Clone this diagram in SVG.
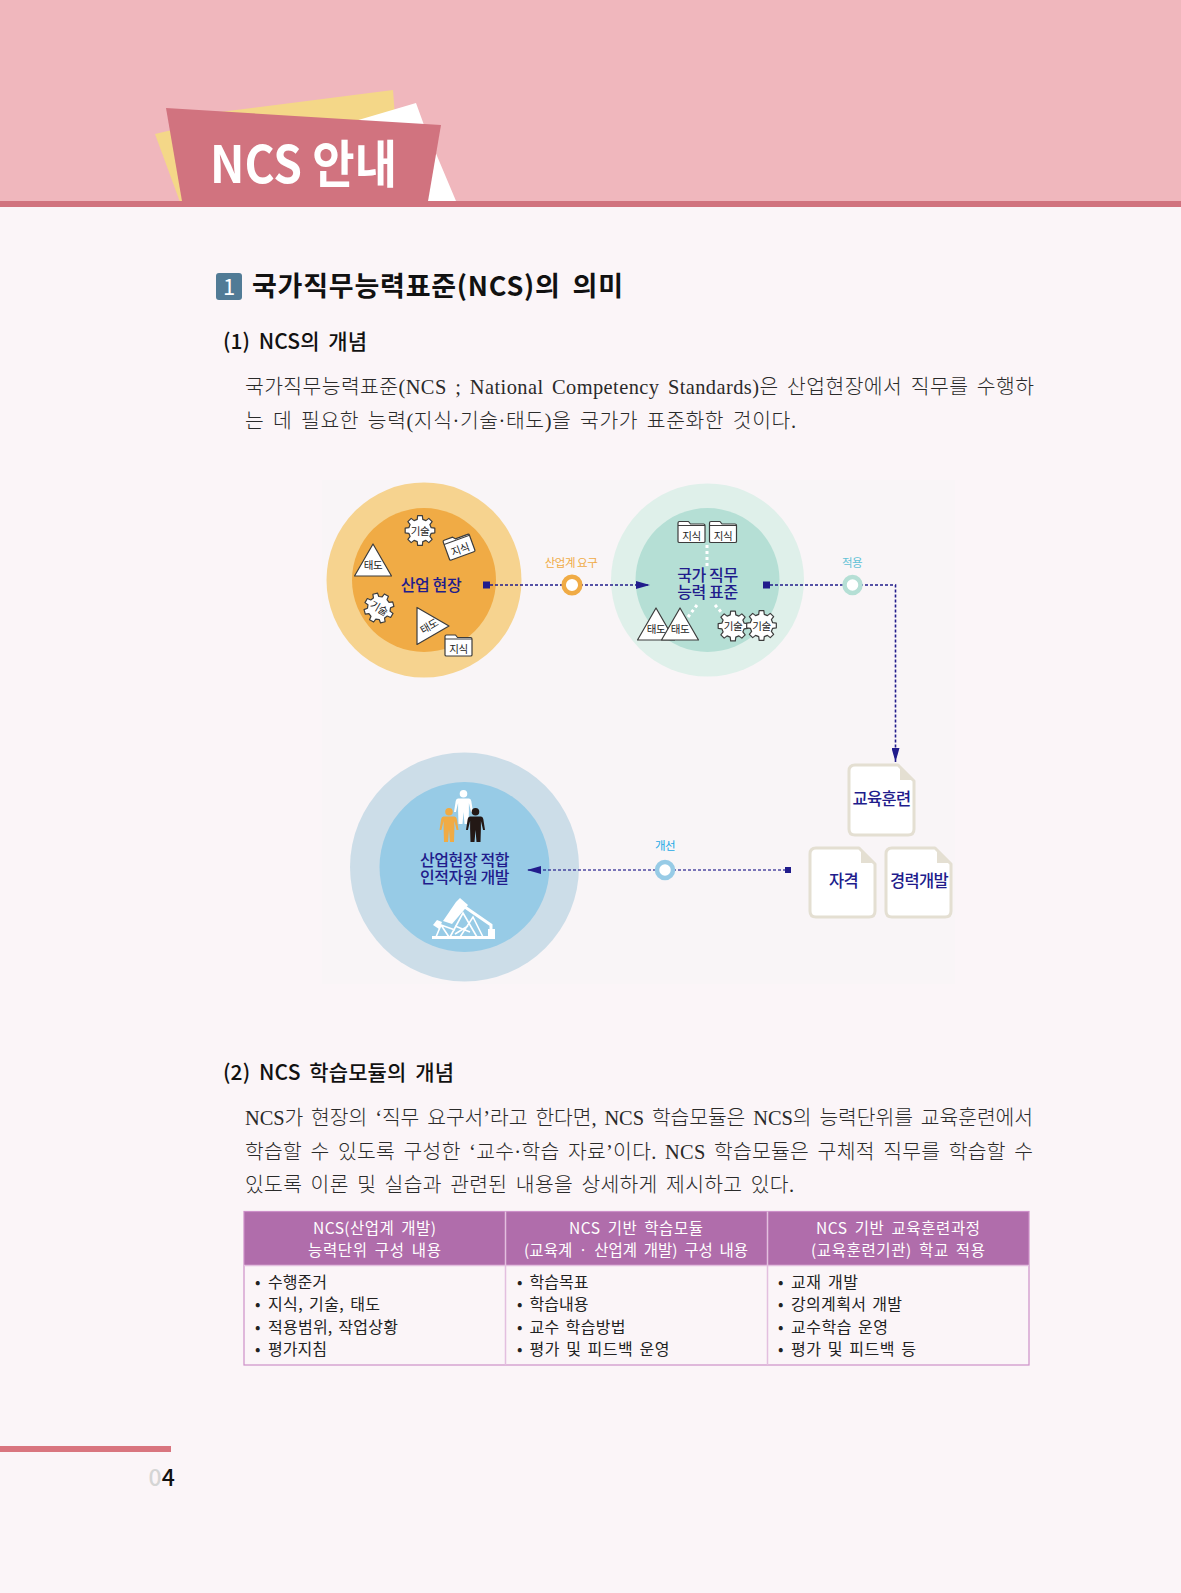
<svg xmlns="http://www.w3.org/2000/svg" width="1181" height="1593" viewBox="0 0 1181 1593">
<style>
text{font-family:"Noto Sans CJK KR","Noto Sans",sans-serif}
.body{font-family:"Liberation Serif","Noto Sans CJK KR",serif;font-size:20.4px;font-weight:300;fill:#2a2a2a;word-spacing:3px}
.h1{font-size:27px;font-weight:700;fill:#111;word-spacing:5px}
.h2{font-size:21px;font-weight:500;fill:#111;word-spacing:4px}
.th{font-size:15.5px;fill:#fff;word-spacing:3px}
.td{font-size:16px;fill:#222;word-spacing:2px}
.lab{font-size:16px;font-weight:500;fill:#211c8c;text-anchor:middle;letter-spacing:-.4px}
.doc{font-size:16.5px;font-weight:500;fill:#211c8c;text-anchor:middle;letter-spacing:-.7px}
.tag{font-size:11.5px;text-anchor:middle;letter-spacing:-.5px}
.ic{font-size:10.5px;fill:#222;text-anchor:middle;letter-spacing:-.3px}
.ln{fill:none;stroke:#211c8c;stroke-width:1.6;stroke-dasharray:3 2}
.sq{fill:#211c8c}
.ring{fill:#fff;stroke-width:4.5}
.dot{fill:none;stroke:#fff;stroke-width:3;stroke-dasharray:3 3}
.shape{fill:#fff;stroke:#3c3c3c;stroke-width:1.2;stroke-linejoin:round}
.sheet{fill:#fff;stroke:#e4dfd2;stroke-width:3;stroke-linejoin:round}
.fold{fill:#e4dfd2}
.pump{fill:none;stroke:#fff;stroke-width:1.6}
.cell{fill:none;stroke:#cd8fc9;stroke-width:1.2}
.div{stroke:#e3bfdf;stroke-width:1.5;fill:none}
</style>
<defs>
<polygon id="gear" class="shape" points="11.16,-2.78 14.82,-2.35 14.82,2.35 11.16,2.78 9.86,5.92 12.14,8.82 8.82,12.14 5.92,9.86 2.78,11.16 2.35,14.82 -2.35,14.82 -2.78,11.16 -5.92,9.86 -8.82,12.14 -12.14,8.82 -9.86,5.92 -11.16,2.78 -14.82,2.35 -14.82,-2.35 -11.16,-2.78 -9.86,-5.92 -12.14,-8.82 -8.82,-12.14 -5.92,-9.86 -2.78,-11.16 -2.35,-14.82 2.35,-14.82 2.78,-11.16 5.92,-9.86 8.82,-12.14 12.14,-8.82 9.86,-5.92"/>
<polygon id="tri" class="shape" points="0,-20 -18.5,12 18.5,12"/>
<g id="folder"><path class="shape" d="M-13.500,9.500V-9Q-13.500,-10.500 -12,-10.500H-3L-1,-8H12Q13.500,-8 13.500,-6.500V9.500Q13.500,10.500 12,10.500H-12Q-13.500,10.500 -13.500,9.500Z"/><path d="M-13.500,-6.500H13.500" stroke="#3c3c3c" stroke-width="1" fill="none"/></g>
<path id="person" d="M-5.500,7.500H5.500Q7.400,7.500 7.800,10L9.500,21H7.600L5.400,12V20L5,33H1L0,21L-1,33H-5L-5.400,20V12L-7.600,21H-9.500L-7.800,10Q-7.400,7.500 -5.500,7.500ZM0,-1A3.800,3.800 0 1 1 0,6.600A3.800,3.800 0 1 1 0,-1Z"/>
<marker id="ah" markerWidth="14" markerHeight="8" refX="14" refY="4" orient="auto" markerUnits="userSpaceOnUse"><polygon points="0,0 14,4 0,8" fill="#211c8c"/></marker>
</defs>

<rect width="1181" height="1593" fill="#fbf5f8"/>
<g id="header">
<rect width="1181" height="201" fill="#f0b7bd"/>
<polygon points="220,112 393,90 396,130 220,130" fill="#f4d788"/>
<polygon points="155,134 172,130 186,202 180,202" fill="#f4d788"/>
<polygon points="355,121 416,103 424,125 456,201 426,201" fill="#fff"/>
<rect y="201" width="1181" height="6" fill="#d1737f"/>
<polygon points="166,108 441,125 427,207 183,207" fill="#d1737f"/>
<text x="210" y="183" font-size="51" font-weight="700" fill="#fff" textLength="187" lengthAdjust="spacingAndGlyphs">NCS 안내</text>
</g>

<g id="section1">
<rect x="216" y="273" width="26" height="27" rx="3" fill="#517b96"/>
<text x="229" y="295" font-size="22" fill="#fff" text-anchor="middle">1</text>
<text class="h1" x="252" y="296" textLength="371">국가직무능력표준(NCS)의 의미</text>
<text class="h2" x="223" y="349" textLength="144">(1) NCS의 개념</text>
<text class="body" x="245" y="394" textLength="789">국가직무능력표준(NCS ; National Competency Standards)은 산업현장에서 직무를 수행하</text>
<text class="body" x="245" y="428" textLength="551">는 데 필요한 능력(지식·기술·태도)을 국가가 표준화한 것이다.</text>
</g>

<rect id="diagram-bg" x="322" y="480" width="633" height="504" fill="#f9f5f7"/>

<g id="node-industry">
<circle cx="424" cy="580" r="97.500" fill="#f6d38f"/>
<circle cx="424" cy="580" r="72" fill="#f0ab45"/>
<text class="lab" x="431" y="591">산업 현장</text>
<g transform="translate(420,530.500)"><use href="#gear"/><text class="ic" y="4">기술</text></g>
<g transform="translate(459,546) rotate(-20)"><use href="#folder"/><text class="ic" y="7.500">지식</text></g>
<g transform="translate(373,564)"><use href="#tri"/><text class="ic" y="5">태도</text></g>
<g transform="translate(379,608) rotate(30)"><use href="#gear"/><text class="ic" y="4">기술</text></g>
<g transform="translate(429,626) rotate(-30)"><g transform="rotate(120)"><use href="#tri"/></g><text class="ic" y="4">태도</text></g>
<g transform="translate(458.500,645.500)"><use href="#folder"/><text class="ic" y="7.500">지식</text></g>
</g>

<g id="node-standard">
<circle cx="707.500" cy="580" r="96.500" fill="#dff0ea"/>
<circle cx="707.500" cy="580" r="72" fill="#b5dfd5"/>
<path class="dot" d="M707,545V567M697,605L688,617M715,605L722,613"/>
<text class="lab" x="707.500" y="581">국가 직무</text>
<text class="lab" x="707.500" y="598.300">능력 표준</text>
<g transform="translate(691.500,532)"><use href="#folder"/><text class="ic" y="7.500">지식</text></g>
<g transform="translate(723,532)"><use href="#folder"/><text class="ic" y="7.500">지식</text></g>
<g transform="translate(656,628)"><use href="#tri"/><text class="ic" y="5">태도</text></g>
<g transform="translate(680,628)"><use href="#tri"/><text class="ic" y="5">태도</text></g>
<g transform="translate(733,626)"><use href="#gear"/><text class="ic" y="4">기술</text></g>
<g transform="translate(761.500,625.500)"><use href="#gear"/><text class="ic" y="4">기술</text></g>
</g>

<g id="node-hr">
<circle cx="464.500" cy="867" r="114.500" fill="#ccdde8"/>
<circle cx="464.500" cy="867" r="85" fill="#97cbe6"/>
<use href="#person" x="463.500" y="791" fill="#fff"/>
<use href="#person" x="449" y="809" fill="#f0ab45"/>
<use href="#person" x="475.500" y="809" fill="#231815"/>
<text class="lab" x="464.500" y="866">산업현장 적합</text>
<text class="lab" x="464.500" y="883.300">인적자원 개발</text>
<g id="pump">
<rect x="432" y="936" width="63" height="3" fill="#fff"/>
<rect x="488" y="929" width="7" height="8" fill="#fff"/>
<polygon points="443,921 456,902 460,898 468,905 464,910 452,924" fill="#fff"/>
<path d="M462,905L491,925V930" stroke="#fff" stroke-width="3" fill="none"/>
<path class="pump" d="M450,937L463,913L477,937M460,937L473,917L483,937M455,926L470,932M468,926L455,934"/>
<polygon points="433,925 437,920 442,922 439,929" fill="#fff"/>
<path class="pump" d="M436,937L441,925L449,937M441,925L455,930"/>
</g>
</g>

<g id="node-education"><path class="sheet" d="M855,765H898L914,781V829Q914,835 908,835H855Q849,835 849,829V771Q849,765 855,765Z"/><polygon class="fold" points="900,766 913,780 900,780"/><text class="doc" x="881.500" y="804.500">교육훈련</text></g>
<g id="node-qualification"><path class="sheet" d="M816,848H859L875,864V911Q875,917 869,917H816Q810,917 810,911V854Q810,848 816,848Z"/><polygon class="fold" points="861,849 874,863 861,863"/><text class="doc" x="843.500" y="887">자격</text></g>
<g id="node-career"><path class="sheet" d="M892,848H935L951,864V911Q951,917 945,917H892Q886,917 886,911V854Q886,848 892,848Z"/><polygon class="fold" points="937,849 950,863 937,863"/><text class="doc" x="919" y="887">경력개발</text></g>

<g id="connectors">
<path class="ln" d="M490,585H650" marker-end="url(#ah)"/>
<path class="ln" d="M770,585H895.500V762" marker-end="url(#ah)"/>
<path class="ln" d="M786,870H527" marker-end="url(#ah)" stroke-opacity=".78"/>
<rect class="sq" x="483" y="581.500" width="7" height="7"/>
<rect class="sq" x="763" y="581.500" width="7" height="7"/>
<rect class="sq" x="785" y="867" width="6" height="6"/>
</g>

<g id="node-demand"><circle class="ring" cx="572" cy="585" r="8.300" stroke="#f0ab45"/><text class="tag" x="571" y="567" fill="#f0ab45">산업계 요구</text></g>
<g id="node-apply"><circle class="ring" cx="852.500" cy="585" r="8" stroke="#b5dfd5"/><text class="tag" x="852" y="567" fill="#63c2d6">적용</text></g>
<g id="node-improve"><circle class="ring" cx="665" cy="870" r="8" stroke="#97cbe6"/><text class="tag" x="665" y="850" fill="#1ea9e6">개선</text></g>

<g id="section2">
<text class="h2" x="223" y="1080" textLength="231">(2) NCS 학습모듈의 개념</text>
<text class="body" x="245" y="1125" textLength="788">NCS가 현장의 ‘직무 요구서’라고 한다면, NCS 학습모듈은 NCS의 능력단위를 교육훈련에서</text>
<text class="body" x="245" y="1158.500" textLength="788">학습할 수 있도록 구성한 ‘교수·학습 자료’이다. NCS 학습모듈은 구체적 직무를 학습할 수</text>
<text class="body" x="245" y="1192" textLength="549">있도록 이론 및 실습과 관련된 내용을 상세하게 제시하고 있다.</text>
</g>

<g id="table">
<rect x="244" y="1211.500" width="785" height="54" fill="#b06dab"/>
<rect class="cell" x="244" y="1211.500" width="785" height="153.500"/>
<path class="div" d="M505.500,1211.500V1365M767.500,1211.500V1365M244,1265.500H1029"/>
<text class="th" x="313" y="1234" textLength="123">NCS(산업계 개발)</text>
<text class="th" x="308" y="1256" textLength="133">능력단위 구성 내용</text>
<text class="th" x="569" y="1234" textLength="134">NCS 기반 학습모듈</text>
<text class="th" x="524" y="1256" textLength="224">(교육계 · 산업계 개발) 구성 내용</text>
<text class="th" x="816" y="1234" textLength="164">NCS 기반 교육훈련과정</text>
<text class="th" x="811" y="1256" textLength="174">(교육훈련기관) 학교 적용</text>
<text class="td" x="255" y="1288">•</text><text class="td" x="268" y="1288">수행준거</text>
<text class="td" x="255" y="1310">•</text><text class="td" x="268" y="1310" textLength="112">지식, 기술, 태도</text>
<text class="td" x="255" y="1332.500">•</text><text class="td" x="268" y="1332.500" textLength="130">적용범위, 작업상황</text>
<text class="td" x="255" y="1355">•</text><text class="td" x="268" y="1355">평가지침</text>
<text class="td" x="517" y="1288">•</text><text class="td" x="529.500" y="1288">학습목표</text>
<text class="td" x="517" y="1310">•</text><text class="td" x="529.500" y="1310">학습내용</text>
<text class="td" x="517" y="1332.500">•</text><text class="td" x="529.500" y="1332.500" textLength="96">교수 학습방법</text>
<text class="td" x="517" y="1355">•</text><text class="td" x="529.500" y="1355" textLength="140">평가 및 피드백 운영</text>
<text class="td" x="778" y="1288">•</text><text class="td" x="791" y="1288" textLength="67">교재 개발</text>
<text class="td" x="778" y="1310">•</text><text class="td" x="791" y="1310" textLength="111">강의계획서 개발</text>
<text class="td" x="778" y="1332.500">•</text><text class="td" x="791" y="1332.500" textLength="97">교수학습 운영</text>
<text class="td" x="778" y="1355">•</text><text class="td" x="791" y="1355" textLength="125">평가 및 피드백 등</text>
</g>

<g id="footer">
<rect y="1446" width="171" height="6" fill="#d9757f"/>
<text x="148.500" y="1486" font-size="23" font-weight="500" font-family="Roboto,sans-serif"><tspan fill="#d5d5d5">0</tspan><tspan fill="#111">4</tspan></text>
</g>
</svg>
